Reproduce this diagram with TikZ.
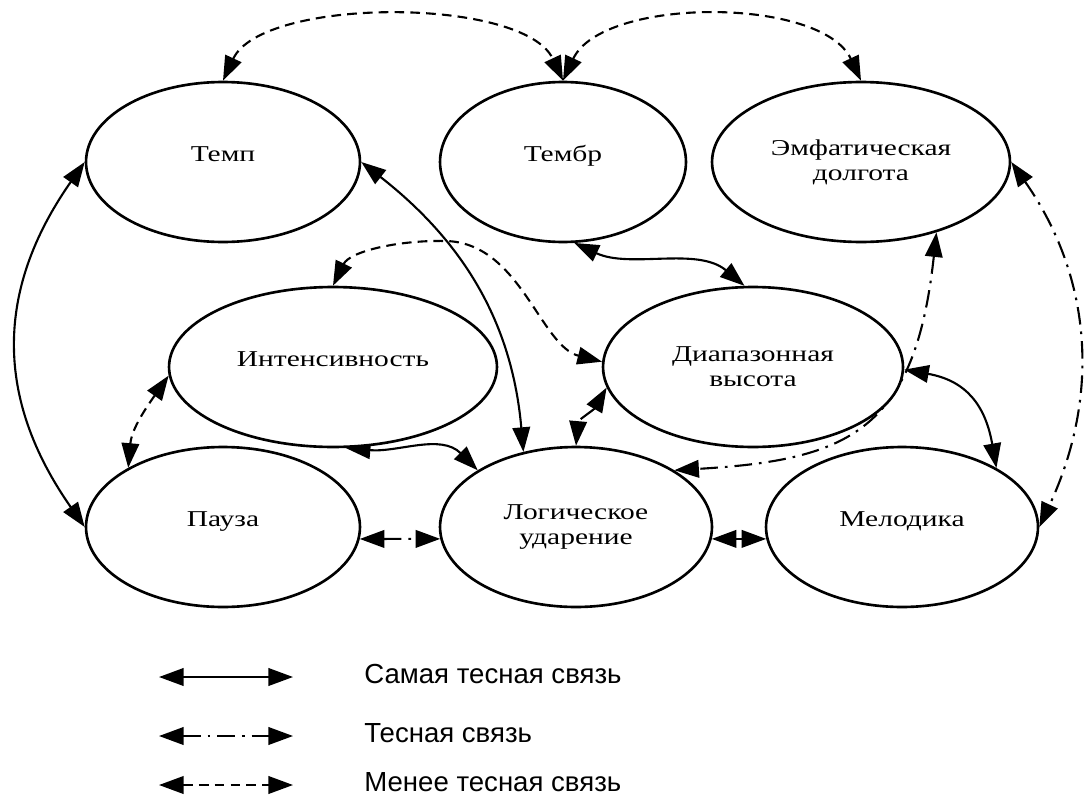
\documentclass[tikz,border=0pt]{standalone}
\usepackage{fontspec}
\setmainfont{Liberation Serif}[FakeStretch=1.3]
\newfontfamily\legendfont{Liberation Sans}
\usetikzlibrary{arrows.meta,shapes.geometric,backgrounds}

\begin{document}
\begin{tikzpicture}[x=0.02cm, y=0.02cm,
  el/.style={ellipse, draw, line width=1.5pt, fill=white, minimum height=3.2cm,
    inner sep=0pt, align=center, font=\fontsize{12.9}{14.2}\selectfont},
  one/.style={text height=9pt, text depth=10pt},
  two/.style={execute at begin node={\rule{0pt}{15pt}}},
  link/.style={line width=1.2pt,
    {Triangle[length=14pt,width=10pt]}-{Triangle[length=14pt,width=10pt]}},
  solidlink/.style={link},
  dashdotlink/.style={link, dash pattern=on 10pt off 4pt on 1.5pt off 4pt},
  dashlink/.style={link, dash pattern=on 5.5pt off 3.5pt}]
\useasboundingbox (0,0) rectangle (1084,796);

% Ellipses
\node[el, one, minimum width=5.48cm] (temp)  at (223,634) {Темп};
\node[el, one, minimum width=4.92cm] (tembr) at (563,634) {Тембр};
\node[el, two, minimum width=5.96cm] (emf)   at (861,634) {Эмфатическая\\долгота};
\node[el, one, minimum width=6.56cm] (inten) at (333,429) {Интенсивность};
\node[el, two, minimum width=6.0cm]  (diap)  at (753,429) {Диапазонная\\высота};
\node[el, one, minimum width=5.48cm] (pauza) at (223,269) {Пауза};
\node[el, two, minimum width=5.44cm] (logud) at (576,269) {Логическое\\ударение};
\node[el, one, minimum width=5.44cm] (melod) at (902,269) {Мелодика};

\begin{scope}[on background layer]
% Closest links
\draw[solidlink] (temp.west) to[out=235, in=125, looseness=1.1] (pauza.west);
\draw[solidlink] (temp.east) to[out=-38, in=95] (logud.125);
\draw[solidlink] (tembr.-82) to[out=-25, in=140, looseness=0.9] (diap.96);
\draw[solidlink] (inten.-81) to[out=-5, in=135] (logud.150);
\draw[solidlink] (diap.-1) to[out=-10, in=100, looseness=1.2] (melod.32);
\draw[solidlink] (logud.-5) -- (melod.185);

% Close links
\draw[dashdotlink] (pauza.-5) -- (logud.185);
\draw[dashdotlink] (diap.188) to[out=240, in=85] (logud.north);
\draw[dashdotlink] (emf.-43) .. controls (915,366) and (850,336) .. (logud.30);
\draw[dashdotlink] (emf.east) to[out=-55, in=65] (melod.east);

% Less close links
\draw[dashlink] (temp.north) to[out=65, in=115, looseness=0.7] (tembr.north);
\draw[dashlink] (tembr.north) to[out=65, in=115, looseness=0.8] (emf.north);
\draw[dashlink] (inten.north) .. controls (350,545) and (400,556) .. (445,555)
  .. controls (520,554) and (540,450) .. (diap.178);
\draw[dashlink] (inten.183) to[out=235, in=85] (pauza.148);
\end{scope}

% Legend
\foreach \yy/\sty/\txt [count=\i] in {119/solidlink/Самая тесная связь,
    60/dashdotlink/Тесная связь, 11/dashlink/Менее тесная связь} {
  \coordinate (la\i) at (159,\yy);
  \coordinate (lb\i) at (293,\yy);
  \draw[\sty] (la\i) -- (lb\i);
  \node[anchor=west, inner sep=0pt, font=\legendfont\fontsize{15.7}{18}\selectfont] (lt\i)
    at (364,\yy+3) {\txt};
}
\end{tikzpicture}
\end{document}
